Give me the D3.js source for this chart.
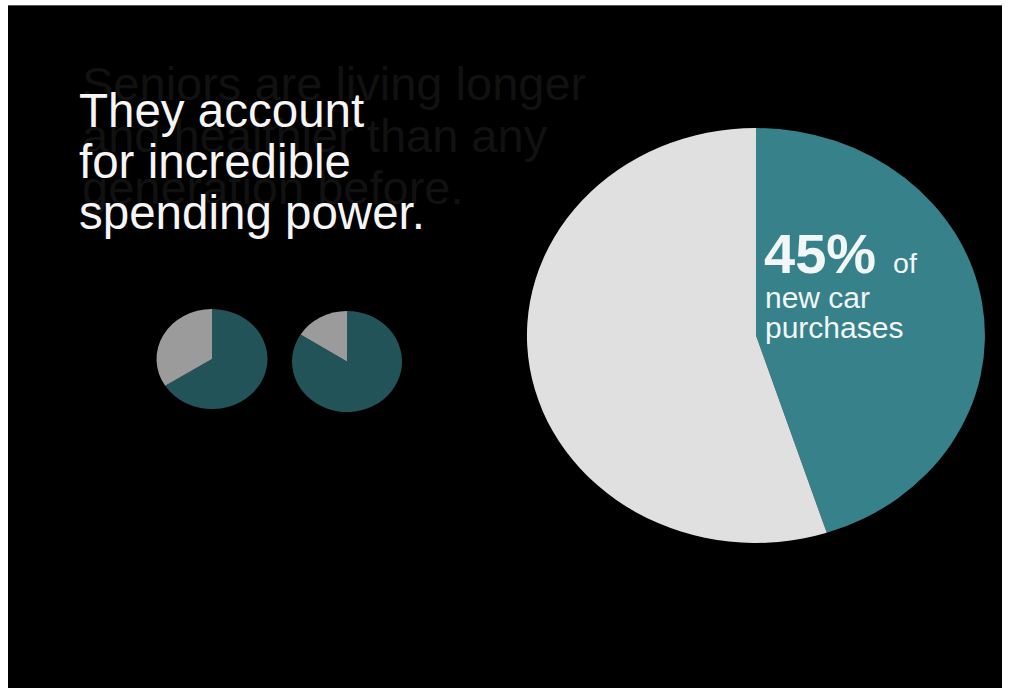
<!DOCTYPE html>
<html>
<head>
<meta charset="utf-8">
<script src="https://cdn.jsdelivr.net/npm/d3@7"></script>
<style>
  html, body { margin: 0; padding: 0; background: #ffffff; }
  svg { display: block; }
  text { font-family: "Liberation Sans", Arial, Helvetica, sans-serif; }
</style>
</head>
<body>
<script>
// Slide copy
const backgroundLines = ["Seniors are living longer", "and healthier than any", "generation before."];
const headlineLines = ["They account", "for incredible", "spending power."];
const calloutValue = "45%";
const calloutSuffix = "of";
const calloutLines = ["new car", "purchases"];

// Pie data
const bigPieLabels = ["new car purchases", "other"];
const bigPieValues = [45, 55];
const smallPieLabels = ["share", "rest"];
const smallPieLeftValues = [66, 34];
const smallPieRightValues = [84, 16];

const W = 1009, H = 690;

const svg = d3.select("body").append("svg")
  .attr("width", W).attr("height", H);

// Slide frame
svg.append("rect").attr("x", 0).attr("y", 0).attr("width", W).attr("height", H).attr("fill", "#ffffff");
svg.append("rect").attr("x", 8).attr("y", 6).attr("width", 994).attr("height", 682).attr("fill", "#000000");
svg.append("line").attr("x1", 8).attr("x2", 1002).attr("y1", 5.5).attr("y2", 5.5)
  .attr("stroke", "#555555").attr("stroke-width", 1);

// Faded previous-slide text
const ghost = svg.append("g");
ghost.selectAll("text").data(backgroundLines).join("text")
  .attr("x", 82)
  .attr("y", (d, i) => 100 + i * 52)
  .attr("font-size", 47)
  .attr("fill", "#111111")
  .text(d => d);

// Headline
const head = svg.append("g");
head.selectAll("text").data(headlineLines).join("text")
  .attr("x", 79)
  .attr("y", (d, i) => 127 + i * 51)
  .attr("font-size", 47.5)
  .attr("fill", "#f6f6f6")
  .text(d => d);

// Elliptical pie helper: unit-radius arcs scaled to rx/ry
const pie = d3.pie().sort(null).value(d => d);
const unitArc = d3.arc().innerRadius(0).outerRadius(1);

function drawPie(values, cx, cy, rx, ry, colors) {
  const g = svg.append("g")
    .attr("transform", `translate(${cx},${cy}) scale(${rx},${ry})`);
  g.selectAll("path").data(pie(values)).join("path")
    .attr("d", unitArc)
    .attr("fill", (d, i) => colors[i]);
  return g;
}

drawPie(smallPieLeftValues, 212, 359, 55.5, 50, ["#225358", "#9b9b9b"]);
drawPie(smallPieRightValues, 347, 361.5, 55, 50.5, ["#225358", "#9b9b9b"]);
drawPie(bigPieValues, 756, 335.5, 229, 207.5, ["#37818a", "#e0e0e0"]);

// Callout inside the teal wedge
const callout = svg.append("g").attr("fill", "#f2f6f6");
const first = callout.append("text").attr("x", 764).attr("y", 273);
first.append("tspan").attr("font-size", 56).attr("font-weight", "bold").text(calloutValue);
first.append("tspan").attr("font-size", 28.5).attr("dx", 17).text(calloutSuffix);
callout.selectAll("text.line").data(calloutLines).join("text")
  .attr("class", "line")
  .attr("x", 765)
  .attr("y", (d, i) => 308 + i * 30)
  .attr("font-size", 30)
  .text(d => d);
</script>
</body>
</html>
